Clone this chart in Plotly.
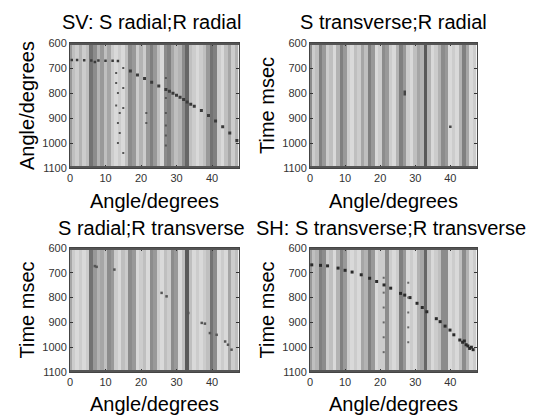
import plotly.graph_objects as go

# ---------------- data ----------------
trace_angles = list(range(48))  # one seismic trace per degree

# gray level of each trace (0 = black, 1 = white)
p1_gray = [0.6, 0.75, 0.8, 0.7, 0.8, 0.75, 0.45, 0.55, 0.7, 0.6, 0.75, 0.65, 0.8, 0.85, 0.8, 0.85,
           0.75, 0.55, 0.6, 0.8, 0.7, 0.8, 0.6, 0.5, 0.6, 0.75, 0.85, 0.55, 0.5, 0.65, 0.75, 0.7,
           0.55, 0.4, 0.75, 0.8, 0.85, 0.8, 0.75, 0.6, 0.45, 0.5, 0.8, 0.85, 0.75, 0.65, 0.8, 0.7]
p2_gray = [0.55, 0.8, 0.75, 0.5, 0.6, 0.8, 0.75, 0.85, 0.7, 0.5, 0.6, 0.8, 0.85, 0.75, 0.8, 0.65,
           0.75, 0.5, 0.6, 0.85, 0.8, 0.55, 0.6, 0.8, 0.85, 0.7, 0.5, 0.6, 0.8, 0.85, 0.75, 0.65,
           0.7, 0.35, 0.7, 0.85, 0.8, 0.7, 0.55, 0.6, 0.85, 0.8, 0.85, 0.7, 0.5, 0.65, 0.85, 0.8]
p3_gray = [0.65, 0.8, 0.85, 0.8, 0.85, 0.8, 0.45, 0.6, 0.7, 0.65, 0.75, 0.55, 0.6, 0.8, 0.85, 0.75,
           0.8, 0.55, 0.6, 0.85, 0.8, 0.75, 0.85, 0.55, 0.6, 0.8, 0.85, 0.75, 0.8, 0.55, 0.6, 0.85,
           0.75, 0.35, 0.75, 0.85, 0.8, 0.85, 0.8, 0.75, 0.45, 0.55, 0.85, 0.8, 0.85, 0.65, 0.8, 0.75]
p4_gray = [0.6, 0.75, 0.7, 0.5, 0.55, 0.8, 0.75, 0.85, 0.7, 0.5, 0.6, 0.8, 0.85, 0.8, 0.85, 0.65,
           0.7, 0.5, 0.6, 0.85, 0.8, 0.8, 0.55, 0.8, 0.85, 0.8, 0.5, 0.6, 0.85, 0.8, 0.85, 0.7,
           0.65, 0.4, 0.75, 0.85, 0.8, 0.75, 0.55, 0.55, 0.85, 0.8, 0.85, 0.75, 0.55, 0.7, 0.85, 0.8]

# picked events (angle in degrees, time in msec)
p1_flat_angle = [0.5, 2, 4, 6, 7, 8, 10, 12, 13.5]
p1_flat_time = [668, 668, 669, 670, 676, 670, 671, 671, 672]
p1_diag_angle = [17, 19, 21, 23, 25, 27, 28, 29, 30, 31, 32, 33, 34, 35, 37, 39, 41, 43, 45, 47]
p1_diag_time = [712, 728, 742, 757, 772, 786, 793, 801, 809, 817, 826, 836, 845, 853, 870, 890,
                912, 935, 960, 990]
p1_noise_angle = [13, 13, 13.5, 13, 14, 13.5, 14, 13.5, 15, 15, 15, 15, 27, 27, 27, 27, 27, 27, 21.5, 21.5]
p1_noise_time = [720, 760, 800, 850, 880, 920, 960, 1000, 700, 780, 860, 1040, 740, 820, 880, 930, 970, 1010, 880, 920]

p2_angle = [27, 27, 40]
p2_time = [795, 805, 935]

p3_angle = [7, 7.5, 12.5, 25.8, 27.2, 33.3, 37.1, 38, 39.4, 41.3, 43.7, 44.5, 45.5]
p3_time = [673, 676, 687, 781, 795, 862, 902, 905, 943, 950, 977, 990, 1010]

p4_angle = [0.5, 3, 5, 8, 10, 12, 14.6, 17, 19, 21.1, 23, 25.8, 27, 28.5, 30.5, 32, 33.3, 36, 37.1,
            38.5, 39.9, 41, 42.7, 43.5, 44.5, 45.5, 46.5, 44, 45, 46]
p4_time = [668, 670, 672, 681, 690, 697, 708, 722, 735, 749, 762, 783, 790, 800, 823, 840, 857, 885,
           897, 915, 931, 950, 971, 980, 990, 1005, 1010, 975, 995, 1000]
p4_noise_angle = [21, 21, 21, 21, 21, 21, 28, 28, 28, 28, 28]
p4_noise_time = [720, 780, 840, 900, 960, 1020, 740, 800, 860, 920, 980]

titles = ["SV: S radial;R radial", "S transverse;R radial",
          "S radial;R transverse", "SH: S transverse;R transverse"]
y_titles = ["Angle/degrees", "Time msec", "Time msec", "Time msec"]
x_title = "Angle/degrees"
x_ticks = [0, 10, 20, 30, 40]
y_ticks = [600, 700, 800, 900, 1000, 1100]
time_span = [600, 1100]

# ---------------- figure ----------------
# the page body has an 8px margin, so the figure is drawn 8px in from the window corner
OFF = 8
W, H = 539 - OFF, 415 - OFF
FONT = "Liberation Sans, Arial, sans-serif"
panels = [
    dict(gray=p1_gray, x=(70, 239), y=(43, 168), tx=151, ty=22),
    dict(gray=p2_gray, x=(310, 477), y=(43, 168), tx=393, ty=22),
    dict(gray=p3_gray, x=(70, 239), y=(248, 372), tx=151, ty=228),
    dict(gray=p4_gray, x=(310, 477), y=(248, 372), tx=391, ty=228),
]
events = [
    [(p1_flat_angle, p1_flat_time, 2.5, "#3a3a3a"), (p1_diag_angle, p1_diag_time, 3, "#3a3a3a"),
     (p1_noise_angle, p1_noise_time, 2, "#555")],
    [(p2_angle, p2_time, 2.5, "#444")],
    [(p3_angle, p3_time, 2.5, "#555")],
    [(p4_angle, p4_time, 3, "#2a2a2a"), (p4_noise_angle, p4_noise_time, 2, "#666")],
]

fig = go.Figure()
layout = dict(width=W, height=H, margin=dict(l=0, r=0, t=0, b=0, autoexpand=False),
              paper_bgcolor="white", plot_bgcolor="white", showlegend=False,
              font=dict(family=FONT, color="black"), annotations=[], shapes=[])

for i, p in enumerate(panels):
    n = i + 1
    xa = "x" if n == 1 else f"x{n}"
    ya = "y" if n == 1 else f"y{n}"
    fig.add_trace(go.Heatmap(z=[p["gray"], p["gray"]], x=trace_angles, y=time_span,
                             colorscale=[[0, "black"], [1, "white"]], zmin=0, zmax=1,
                             showscale=False, xaxis=xa, yaxis=ya, hoverinfo="skip"))
    for ex, ey, sz, col in events[i]:
        fig.add_trace(go.Scatter(x=ex, y=ey, mode="markers",
                                 marker=dict(size=sz, color=col, symbol="square"),
                                 xaxis=xa, yaxis=ya))
    x0, x1 = (v - OFF for v in p["x"])
    y0, y1 = (v - OFF for v in p["y"])
    layout[f"xaxis{'' if n == 1 else n}"] = dict(
        domain=[x0 / W, x1 / W], anchor=ya, range=[0, 47.6], tickvals=x_ticks,
        ticks="inside", ticklen=3, tickcolor="#333", mirror="ticks", automargin=False,
        showline=True, linecolor="#444", linewidth=1, showgrid=False, zeroline=False,
        tickfont=dict(size=11, color="#333"),
        title=dict(text=x_title, font=dict(size=20), standoff=10))
    layout[f"yaxis{'' if n == 1 else n}"] = dict(
        domain=[1 - y1 / H, 1 - y0 / H], anchor=xa, range=[1100, 600], tickvals=y_ticks,
        ticks="inside", ticklen=3, tickcolor="#333", mirror="ticks", automargin=False,
        showline=True, linecolor="#444", linewidth=1, showgrid=False, zeroline=False,
        tickfont=dict(size=11, color="#333"),
        title=dict(text=y_titles[i], font=dict(size=20), standoff=2))
    layout["annotations"].append(dict(
        text=titles[i], x=(p["tx"] - OFF) / W, y=1 - (p["ty"] - OFF) / H,
        xref="paper", yref="paper", xanchor="center", yanchor="middle",
        showarrow=False, font=dict(size=20)))
    for yv in time_span:
        layout["shapes"].append(dict(type="line", xref=f"{xa} domain", yref=ya,
                                     x0=0, x1=1, y0=yv, y1=yv,
                                     line=dict(color="#555", width=4)))

fig.update_layout(**layout)
fig.write_html("out.html")
